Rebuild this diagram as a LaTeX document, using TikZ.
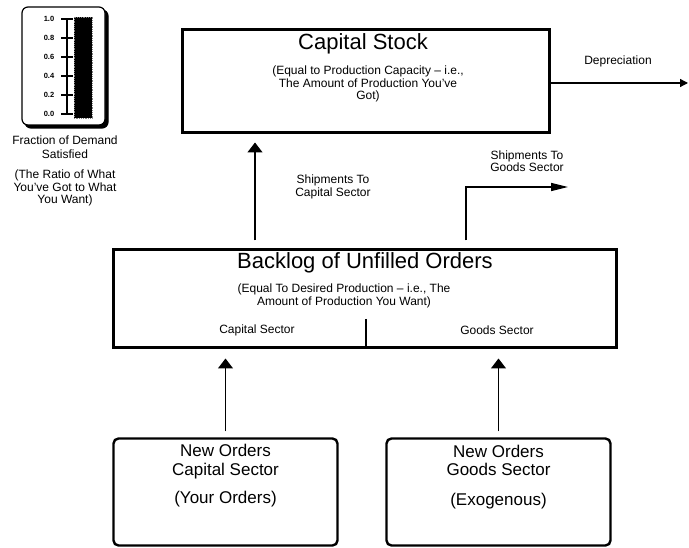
\documentclass[tikz,border=0pt]{standalone}
\usepackage{fontspec}
\setmainfont{Liberation Sans}
\usetikzlibrary{arrows.meta}

\begin{document}
\begin{tikzpicture}[x=1pt, y=-1pt,
            bigbox/.style={draw, line width=3pt, inner sep=0pt},
            orderbox/.style={draw, line width=2.4pt, rounded corners=5pt, inner sep=0pt,
                minimum width=224pt, minimum height=107pt},
            title/.style={font=\fontsize{22}{24}\selectfont, inner sep=0pt},
            note/.style={font=\fontsize{12}{12.5}\selectfont, align=center, inner sep=0pt},
            ordertxt/.style={font=\fontsize{17}{18.5}\selectfont, align=center, inner sep=0pt},
            gaugelabel/.style={font=\fontsize{7.5}{8}\selectfont\bfseries, inner sep=0pt},
            flow/.style={line width=1.3pt, -{Triangle[length=10pt, width=15pt]}},
            thinflow/.style={line width=1.3pt, -{Triangle[length=17pt, width=8pt]}},
            drain/.style={line width=1.3pt, -{Triangle[length=8pt, width=8pt]}}]
            \useasboundingbox (0,0) rectangle (689,548);

            \draw[line width=1.2pt, fill=black, rounded corners=6pt] (25,10) rectangle (108,128);
            \draw[line width=1.2pt, fill=white, rounded corners=6pt] (22,7) rectangle (105,125);
            \draw[line width=1.2pt] (67,19) -- (67,114);
            \foreach \val/\ty [count=\i] in {0.0/114, 0.2/95, 0.4/76, 0.6/57, 0.8/38, 1.0/19} {
                \draw[line width=1.2pt] (61,\ty) -- (73,\ty);
                \node[gaugelabel] (tick\i) at (49,\ty) {\val};
            }
            \fill[black] (74,17) rectangle (92,118);
            \draw[gray, densely dotted, line width=0.8pt] (74,17) rectangle (92,118);
            \node[note, font=\fontsize{12}{13.5}\selectfont] (fractxt) at (65,147) {Fraction of Demand\\Satisfied};
            \node[note, font=\fontsize{12}{12.5}\selectfont] (ratiotxt) at (65,188) {(The Ratio of What\\You've Got to What\\You Want)};

            \node[bigbox, minimum width=367pt, minimum height=103pt] (stock) at (365.5,81.5) {};
            \node[title] (stocktitle) at (363,44) {Capital Stock};
            \node[note] (stocknote) at (368,84) {(Equal to Production Capacity -- i.e.,\\The Amount of Production You've\\Got)};

            \node[bigbox, minimum width=503pt, minimum height=98pt] (backlog) at (364.5,299) {};
            \node[title] (backlogtitle) at (365,263) {Backlog of Unfilled Orders};
            \node[note] (backlognote) at (344,296) {(Equal To Desired Production -- i.e., The\\Amount of Production You Want)};
            \node[note] (capsec) at (257,330) {Capital Sector};
            \node[note] (goodsec) at (497,330) {Goods Sector};
            \coordinate (split) at (366,319);
            \draw[line width=1.3pt] (split) -- (split |- backlog.south);

            \node[orderbox] (capnew) at (225.5,492) {};
            \node[ordertxt] (capnewtxt) at (225.5,476) {New Orders\\Capital Sector\\[10pt](Your Orders)};
            \node[orderbox] (goodsnew) at (498.5,492) {};
            \node[ordertxt] (goodsnewtxt) at (498.5,477) {New Orders\\Goods Sector\\[11pt](Exogenous)};

            \coordinate (capship) at (255,0);
            \draw[flow, shorten <=8pt, shorten >=8pt] (backlog.north -| capship) -- (stock.south -| capship);
            \node[note] (capshiptxt) at (333,187) {Shipments To\\Capital Sector};

            \coordinate (goodsship) at (466,187);
            \coordinate (goodsend) at (568,187);
            \draw[thinflow, shorten <=8pt] (backlog.north -| goodsship) |- (goodsend);
            \node[note] (goodsshiptxt) at (527,161) {Shipments To\\Goods Sector};

            \coordinate (sink) at (688,83);
            \draw[drain] (stock.east |- sink) -- (sink);
            \node[note] (draintxt) at (618,61) {Depreciation};

            \draw[flow, shorten <=6pt, shorten >=9pt] (capnew.north) -- (capnew.north |- backlog.south);
            \draw[flow, shorten <=6pt, shorten >=9pt] (goodsnew.north) -- (goodsnew.north |- backlog.south);
        \end{tikzpicture}
\end{document}
